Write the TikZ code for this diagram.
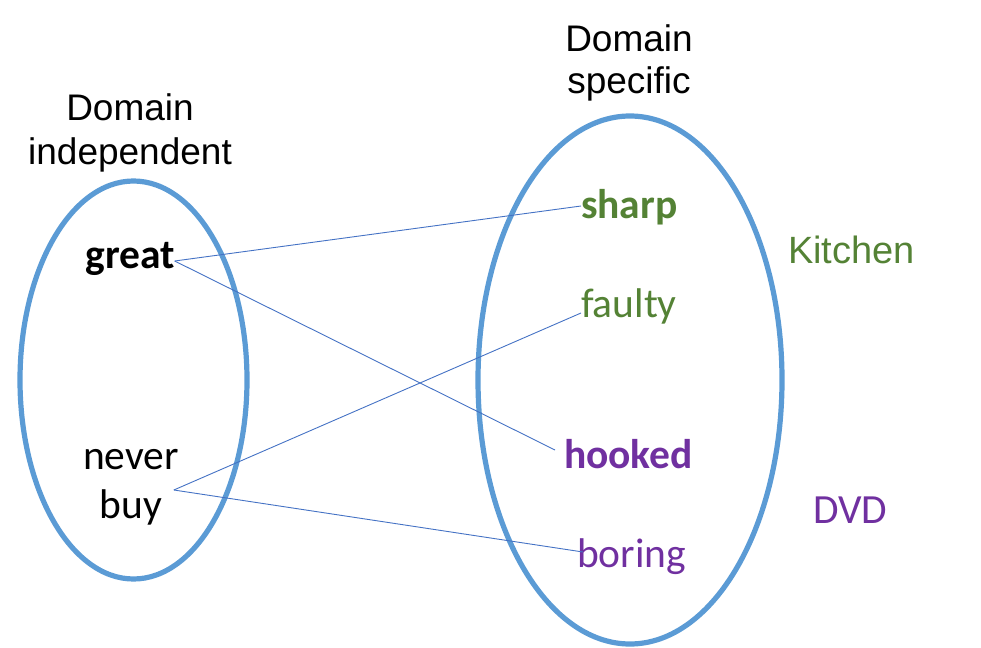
\documentclass[tikz,border=0pt]{standalone}
\usepackage{fontspec}
\setmainfont{Carlito}
\newfontfamily\arialfont{Liberation Sans}
\definecolor{ellblue}{HTML}{5B9BD5}
\definecolor{lineblue}{HTML}{4472C4}
\definecolor{kgreen}{HTML}{548235}
\definecolor{dpurple}{HTML}{7030A0}
\begin{document}
\begin{tikzpicture}[x=1pt,y=-1pt,
  every node/.style={inner sep=0pt, outer sep=0pt},
  ringstyle/.style={draw=ellblue, line width=5.2pt},
  linkstyle/.style={draw=lineblue, line width=0.9pt},
  titlestyle/.style={font=\arialfont\fontsize{37}{44}\selectfont, align=center},
  wordstyle/.style={font=\fontsize{41.5}{49}\selectfont, anchor=base west},
  boldword/.style={font=\bfseries\fontsize{41.5}{49}\selectfont, anchor=base west}]
\useasboundingbox (0,0) rectangle (981,647);
% ellipses
\draw[ringstyle] (133.5,380) ellipse [x radius=113.5, y radius=199];
\draw[ringstyle] (630,380) ellipse [x radius=152, y radius=264];
% titles
\node[titlestyle, anchor=center] (titleL) at (130,133) {Domain\\independent};
\node[titlestyle, font=\arialfont\fontsize{37}{42.5}\selectfont, anchor=center] (titleR) at (629,63) {Domain\\specific};
% left words
\node[boldword, anchor=base] (great) at (130,268) {great};
\node[font=\fontsize{41.5}{49}\selectfont, align=center, anchor=center] (neverbuy) at (131,487) {never\\buy};
% right words
\node[boldword, text=kgreen] (sharp) at (581,218) {sharp};
\node[wordstyle, text=kgreen] (faulty) at (581,317) {faulty};
\node[boldword, text=dpurple] (hooked) at (564,468) {hooked};
\node[wordstyle, text=dpurple] (boring) at (577,567) {boring};
% domain labels
\node[font=\arialfont\fontsize{38}{46}\selectfont, text=kgreen, anchor=base west] (kitchen) at (788,263) {Kitchen};
\node[wordstyle, text=dpurple] (dvd) at (813,523) {DVD};
% links
\draw[linkstyle] ([yshift=7pt]great.base east) -- ([yshift=12pt]sharp.base west);
\draw[linkstyle] ([yshift=7pt]great.base east) -- ([xshift=-9pt,yshift=18pt]hooked.base west);
\draw[linkstyle] ([xshift=-5pt,yshift=-3pt]neverbuy.east) -- ([yshift=4pt]faulty.base west);
\draw[linkstyle] ([xshift=-5pt,yshift=-3pt]neverbuy.east) -- ([xshift=6pt,yshift=15pt]boring.base west);
\end{tikzpicture}
\end{document}
